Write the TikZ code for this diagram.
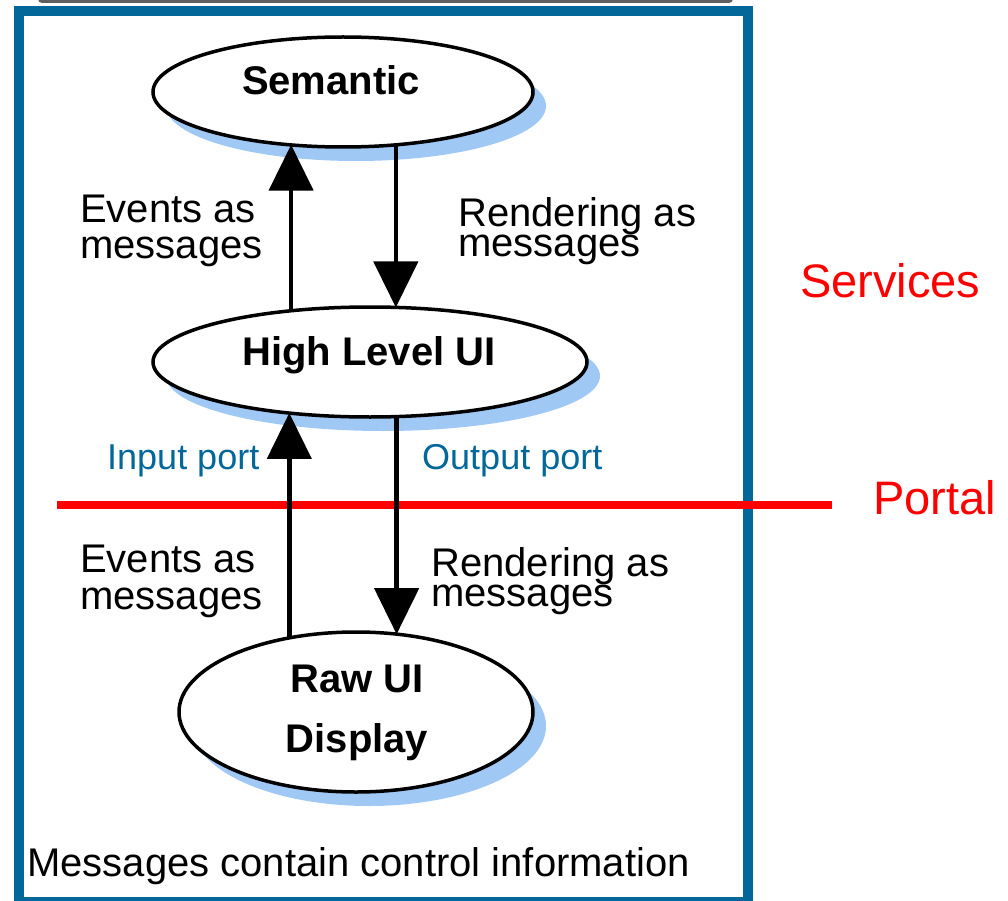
\documentclass[tikz,border=0pt]{standalone}
\usepackage{fontspec}
\setmainfont{Liberation Sans}
\usetikzlibrary{arrows.meta,shapes.geometric,shadows}
\definecolor{frameblue}{RGB}{3,103,153}
\definecolor{shadowblue}{RGB}{160,200,245}
\definecolor{portalred}{RGB}{255,0,0}
\definecolor{capgray}{RGB}{95,95,95}
\begin{document}
\begin{tikzpicture}[x=1pt,y=-1pt,
  layer/.style={ellipse, draw=black, line width=3.5pt, fill=white,
    inner sep=0pt, outer sep=0pt,
    drop shadow={shadow xshift=13pt, shadow yshift=-14pt, fill=shadowblue, opacity=1}},
  layertext/.style={font=\fontsize{40}{60}\selectfont\bfseries, inner sep=0pt},
  note/.style={font=\fontsize{40}{36}\selectfont, align=left, inner sep=0pt, anchor=north west},
  port/.style={font=\fontsize{36}{40}\selectfont, text=frameblue, inner sep=0pt, anchor=base west},
  flow/.style={line width=4.5pt, -{Triangle[length=46pt,width=44pt]}},
  tag/.style={font=\fontsize{47}{50}\selectfont, text=portalred, inner sep=0pt, anchor=base west}
]
\useasboundingbox (0,0) rectangle (1008,901);

% strip of the panel above, and the outer frame
\fill[capgray, rounded corners=4pt] (38,-12) rectangle (733,3);
\draw[frameblue, line width=10pt] (19,11) rectangle (748,902);

% the three layers
\node[layer, minimum width=380pt, minimum height=110pt] (sem) at (343,92) {};
\node[layertext, anchor=base] (semlabel) at (331,95) {Semantic};
\node[layer, minimum width=434pt, minimum height=110pt] (hl) at (370,362) {};
\node[layertext, anchor=base] (hllabel) at (369,365) {High Level UI};
\node[layer, minimum width=354pt, minimum height=160pt] (raw) at (356,712) {};
\node[layertext, align=center] (rawlabel) at (357,713) {Raw UI\\Display};

% portal boundary
\draw[portalred, line width=8pt] (57,505) -- (832,505);

% message flows
\draw[flow] (hl.147.8) -- (hl.147.8 |- sem.224.5);
\draw[flow] (sem.315.5) -- (sem.315.5 |- hl.63.7);
\draw[flow] (raw.132.2) -- (raw.132.2 |- hl.212.2);
\draw[flow] (hl.296.3) -- (hl.296.3 |- raw.62.3);

% labels
\node[note] (evup) at (80,195) {Events as\\messages};
\node[note, font=\fontsize{40}{30}\selectfont] (rendup) at (458,197) {Rendering as\\messages};
\node[note, font=\fontsize{40}{37}\selectfont] (evdown) at (80,545) {Events as\\messages};
\node[note, font=\fontsize{40}{30}\selectfont] (renddown) at (431,547) {Rendering as\\messages};
\node[port] (inport) at (107,469) {Input port};
\node[port] (outport) at (422,469) {Output port};
\node[tag] (services) at (800,297) {Services};
\node[tag] (portal) at (873,514) {Portal};
\node[font=\fontsize{40}{44}\selectfont, inner sep=0pt, anchor=base west] (caption) at (27,876) {Messages contain control information};
\end{tikzpicture}
\end{document}
